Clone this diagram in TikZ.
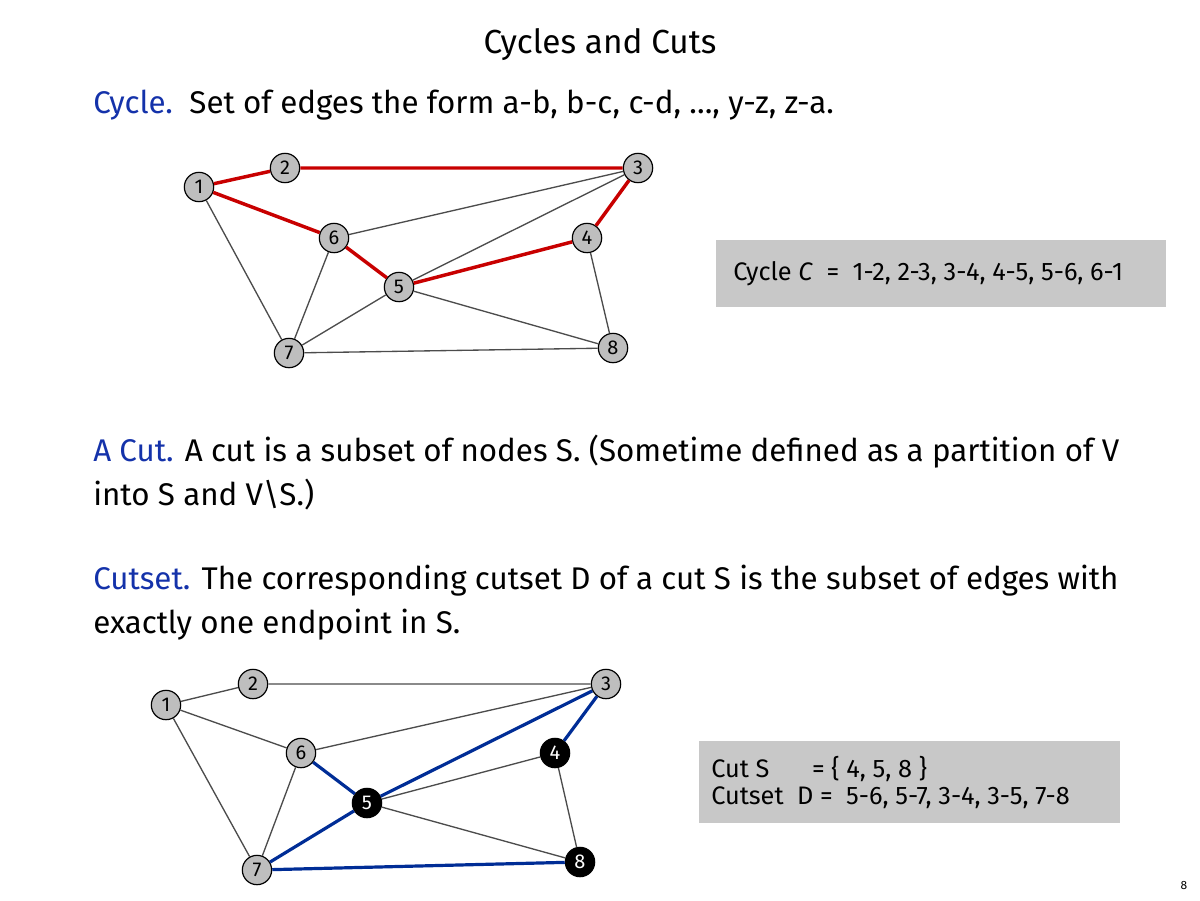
\documentclass[tikz,border=0pt]{standalone}
\usepackage{fontspec}
\setmainfont{Fira Sans}
\definecolor{tblue}{RGB}{20,50,170}
\definecolor{ered}{RGB}{200,0,0}
\definecolor{eblue}{RGB}{0,45,150}
\definecolor{ngray}{RGB}{190,190,190}
\definecolor{bgray}{RGB}{200,200,200}
\begin{document}
\begin{tikzpicture}[x=0.75pt,y=-0.75pt,
  vtx/.style={circle,draw=black,fill=ngray,line width=0.9pt,minimum size=22pt,inner sep=0pt,font=\fontsize{15}{15}\selectfont},
  bvtx/.style={vtx,fill=black,text=white},
  gedge/.style={draw=black!70,line width=1pt},
  redge/.style={draw=ered,line width=2.6pt},
  bedge/.style={draw=eblue,line width=2.4pt},
  txt/.style={anchor=west,inner sep=0pt,font=\fontsize{23.5}{28}\selectfont},
  box/.style={fill=bgray,anchor=north west,inner sep=0pt}]
\useasboundingbox (0,0) rectangle (1200,900);
\node[inner sep=0pt,font=\fontsize{25}{30}\selectfont] (title) at (600,45) {Cycles and Cuts};
\node[txt] (l1) at (93,105) {\textcolor{tblue}{Cycle.}\ \ Set of edges the form a-b, b-c, c-d, …, y-z, z-a.};
\node[txt] (l2) at (93,452) {\textcolor{tblue}{A Cut.} A cut is a subset of nodes S. (Sometime defined as a partition of V};
\node[txt] (l3) at (93,495) {into S and V\textbackslash S.)};
\node[txt] (l4) at (93,581) {\textcolor{tblue}{Cutset.} The corresponding cutset D of a cut S is the subset of edges with};
\node[txt] (l5) at (93,625) {exactly one endpoint in S.};
% top graph
\node[vtx] (a1) at (199,187) {1};
\node[vtx] (a2) at (285,168) {2};
\node[vtx] (a3) at (638,168) {3};
\node[vtx] (a4) at (587,238) {4};
\node[vtx] (a5) at (399,287) {5};
\node[vtx] (a6) at (334,238) {6};
\node[vtx] (a7) at (289,353) {7};
\node[vtx] (a8) at (613,348) {8};
\path[gedge] (a1)--(a7) (a6)--(a3) (a6)--(a7) (a5)--(a3) (a7)--(a5) (a5)--(a8) (a7)--(a8) (a4)--(a8);
\path[redge] (a1)--(a2) (a2)--(a3) (a3)--(a4) (a4)--(a5) (a5)--(a6) (a6)--(a1);
\node[box,minimum width=337.5pt,minimum height=50pt] (bx1) at (716,240) {};
\node[anchor=west,inner sep=0pt,font=\fontsize{19}{22}\selectfont] (c1) at (733,274) {Cycle \textit{C}\ \ =\ \ 1-2, 2-3, 3-4, 4-5, 5-6, 6-1};
% bottom graph
\node[vtx] (b1) at (166,705) {1};
\node[vtx] (b2) at (253,684) {2};
\node[vtx] (b3) at (606,684) {3};
\node[bvtx] (b4) at (555,753) {4};
\node[bvtx] (b5) at (367,803) {5};
\node[vtx] (b6) at (301,753) {6};
\node[vtx] (b7) at (257,870) {7};
\node[bvtx] (b8) at (580,862) {8};
\path[gedge] (b1)--(b2) (b2)--(b3) (b1)--(b6) (b6)--(b3) (b1)--(b7) (b6)--(b7) (b5)--(b4) (b5)--(b8) (b4)--(b8);
\path[bedge] (b6)--(b5) (b5)--(b7) (b3)--(b4) (b3)--(b5) (b7)--(b8);
\node[box,minimum width=315.75pt,minimum height=61.5pt] (bx2) at (699,741) {};
\node[anchor=north west,align=left,inner sep=0pt,font=\fontsize{19}{20}\selectfont] (c2) at (711,756) {Cut S\hspace{32pt}= \{ 4, 5, 8 \}\\Cutset\ \ D = \ 5-6, 5-7, 3-4, 3-5, 7-8};
\node[font=\fontsize{9}{9}\selectfont,inner sep=0pt] (pg) at (1184,885) {8};
\end{tikzpicture}
\end{document}
